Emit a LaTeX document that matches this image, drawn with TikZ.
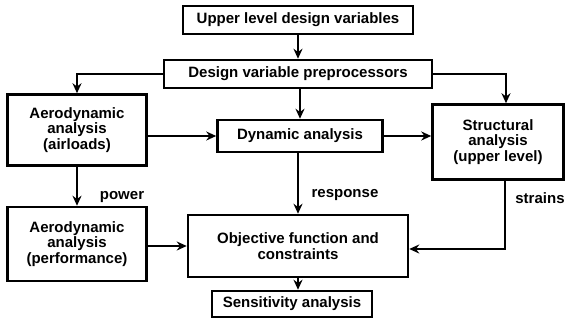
\documentclass[tikz,border=0pt]{standalone}
\usepackage{fontspec}
\setmainfont{Liberation Sans}
\usepackage{tikz}
\usetikzlibrary{arrows.meta}
\tikzset{blk/.style={draw,line width=2.5pt,inner sep=0pt,align=center,font=\fontsize{15}{15.5}\selectfont\bfseries}}
\tikzset{lbl/.style={font=\fontsize{15}{15.5}\selectfont\bfseries}}

\begin{document}
\begin{tikzpicture}[>={Stealth[length=10pt,width=9pt]},x=1pt,y=-1pt,line width=2.1pt]
        \useasboundingbox (0,0) rectangle (566,324);
        \node[blk,minimum width=230pt,minimum height=28pt] (upper)at (298,20) {Upper level design variables};
        \node[blk,minimum width=268pt,minimum height=28pt] (design)at (298,74) {Design variable preprocessors};
        \node[blk,minimum width=139pt,minimum height=71pt] (air)at (77,130) {Aerodynamic\\analysis\\(airloads)};
        \node[blk,minimum width=165pt,minimum height=32pt] (dyn)at (300,136) {Dynamic analysis};
        \node[blk,minimum width=131pt,minimum height=75pt] (struct)at (498,142) {Structural\\analysis\\(upper level)};
        \node[blk,minimum width=139pt,minimum height=74pt] (perf)at (77,244) {Aerodynamic\\analysis\\(performance)};
        \node[blk,minimum width=220pt,minimum height=62pt] (obj)at (298,246) {Objective function and\\constraints};
        \node[blk,minimum width=160pt,minimum height=26pt] (sens)at (292,304) {Sensitivity analysis};

        \node[lbl] (power)at (122,197) {power};
        \node[lbl] (resp)at (345,195) {response};
        \node[lbl] (strains)at (540,198) {strains};

        \draw [->] (upper) to (design);
        \draw [->] (design.west) -| (air.north);
        \draw [->] (design.east) -| ([xshift=8pt]struct.north);
        \draw [->] (design.south -| dyn.north) to (dyn.north);
        \draw [->] (air.east |- dyn.west) to (dyn.west);
        \draw [->] (dyn.east) to (dyn.east -| struct.west);
        \draw [->] (air) to (perf);
        \draw [->] (dyn.south -| obj.north) to (obj.north);
        \draw [->] ([xshift=7pt]struct.south) |- ([yshift=-3pt]obj.east);
        \draw [->] ([yshift=-2pt]perf.east) to ([yshift=-2pt]perf.east -| obj.west);
        \draw [->] (obj.south) to (obj.south |- sens.north);
    \end{tikzpicture}
\end{document}
